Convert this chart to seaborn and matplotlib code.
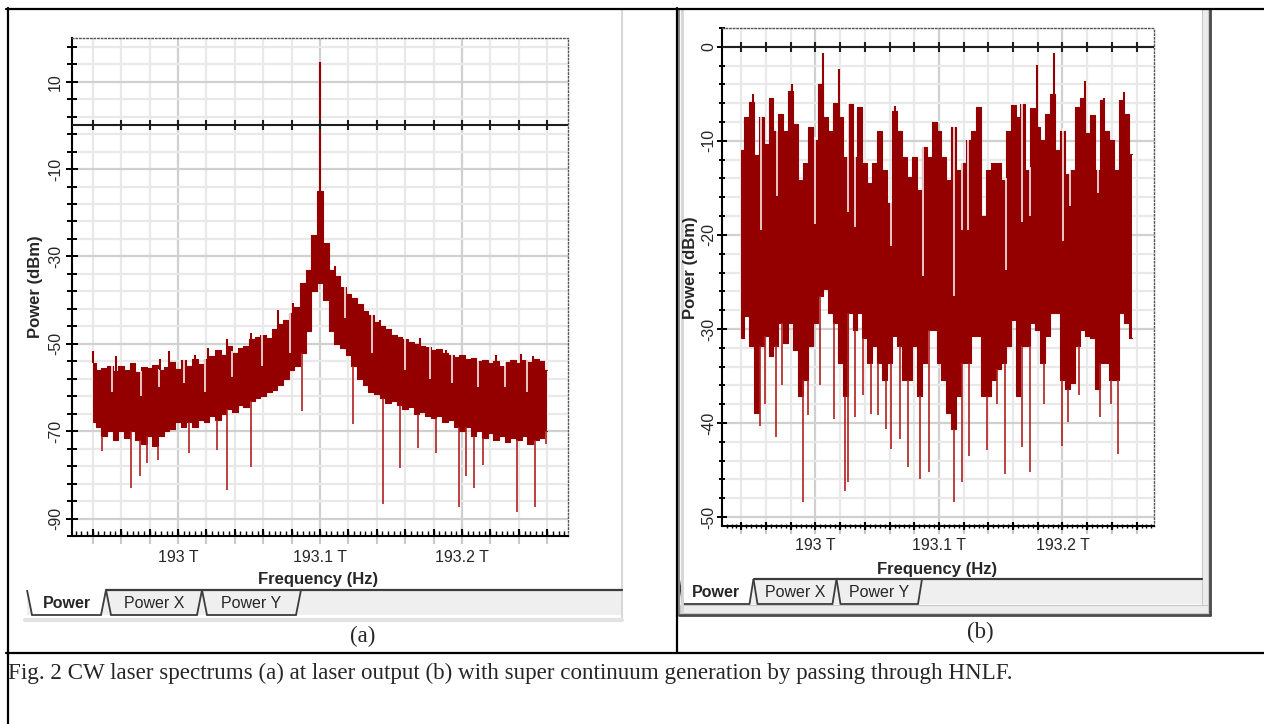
import matplotlib
matplotlib.use("Agg")
import matplotlib.pyplot as plt
from matplotlib.patches import Polygon, Rectangle
import numpy as np
import seaborn as sns

W, H = 1264, 724

# 4 GHz sampling bins of both spectra (THz)
freq = np.round(192.94 + 0.004 * np.arange(81), 4)

# (a) laser output: top / bottom of the noise band, dBm
a_upper = [-54.5, -56, -55.5, -55, -56.2, -55, -56, -54.5, -56.5, -55.2,
           -55.6, -54.8, -56, -55.2, -54.2, -55.8, -53.8, -55, -53.5, -54.6,
           -53.5, -52.8, -51.5, -52.5, -50.5, -52, -51, -50.5, -49, -48.5,
           -48, -48.6, -46.5, -45.5, -44.5, -43, -41.5, -36, -33, -25,
           -15, -27, -33, -34.5, -37, -38.5, -39.5, -41, -42.5, -43.5,
           -45, -46, -46.5, -48, -48.5, -49, -49.5, -50, -50.5, -50.8,
           -51.5, -51.2, -52, -52.5, -53, -52.6, -53.5, -53.2, -54, -53.6,
           -54.5, -54, -55, -54.2, -53.6, -54.5, -53.8, -54.2, -53.5, -54, -56]
a_lower = [-68, -69, -71, -70, -72, -70, -71.5, -70, -72, -73,
           -71, -73.5, -71, -70, -69.5, -68, -69, -68, -69, -67.5,
           -68, -66.5, -67.5, -66, -65, -65.5, -64, -64.5, -63, -62.5,
           -62, -61, -60.5, -59.5, -58, -56, -55, -52, -47, -38,
           -36, -40, -47, -50, -51, -52.5, -55, -58, -59.5, -61,
           -61.5, -62.5, -63.5, -63, -64, -65, -64.5, -66, -65.5, -66.5,
           -67, -66.5, -68, -67.5, -69, -70, -69, -71, -70, -71.5,
           -70.5, -72, -71, -72.5, -71.5, -72, -71, -73, -72, -71.5, -70]
a_peaks = [(193.1, 14.5), (192.9405, -51.6), (192.9937, -51.7), (193.012, -52.5),
           (193.0345, -48.9), (193.0704, -42.3), (193.1106, -32.1), (193.1294, -41),
           (193.1704, -48.6), (193.25, -52.7), (192.9566, -52.7), (192.9875, -53.4),
           (193.0210, -51), (193.0515, -47.5), (193.0810, -40.6), (193.1420, -44.5),
           (193.1885, -51.5), (193.2240, -52.5), (193.2415, -52.4)]
a_dips = [(192.9463, -74.5), (192.9667, -83), (192.9732, -80.3), (192.9782, -77.4),
          (192.9859, -76.5), (193.0077, -75), (193.0273, -74.4), (193.0347, -83.4),
          (193.0514, -78.2), (193.0873, -65.3), (193.1232, -68.4), (193.1442, -86.7),
          (193.1563, -78.5), (193.1688, -73.8), (193.1817, -75), (193.1979, -87.3),
          (193.2026, -80.2), (193.2085, -83), (193.2148, -77.8), (193.2387, -88.4),
          (193.2514, -87.3), (193.2592, -73)]
a_notches = [(192.9533, -61), (192.9739, -62), (192.9866, -60), (193.0042, -59),
             (193.0190, -61), (193.0380, -57.5), (193.0592, -55), (193.0789, -52),
             (193.1176, -44), (193.1366, -52), (193.1599, -56), (193.1775, -58),
             (193.1930, -59), (193.2113, -60), (193.2303, -60), (193.2458, -61)]

# (b) after the HNLF (super continuum)
b_upper = [-11, -7.5, -5.9, -11.5, -7.5, -10.3, -5.4, -8.9, -7.1, -8.9,
           -4.7, -8.2, -14.2, -12.4, -8.5, -9.9, -4, -7.5, -8.9, -6,
           -7.5, -11.7, -6.1, -11.7, -6.4, -12.4, -14.5, -12.4, -8.9, -13.1,
           -16.6, -6.8, -8.9, -11.7, -13.8, -11.7, -15.2, -10.7, -11.7, -8,
           -8.9, -11.7, -14.2, -8.5, -13.1, -12.4, -9.9, -8.9, -6.4, -18,
           -13.1, -12.4, -12.4, -14.2, -8.9, -6.2, -7.5, -6.1, -13.1, -6.5,
           -8.5, -9.9, -7.1, -5, -11, -8.9, -13.5, -13.1, -6.4, -5.4,
           -9.2, -7.3, -13.1, -5.7, -8.9, -9.9, -13.1, -5.7, -7.1, -11.4]
b_lower = [-31, -28.6, -31.8, -38.9, -31.8, -30.8, -32.9, -31.8, -29.4, -31.5,
           -29.4, -32.2, -37.1, -35.4, -31.8, -29.4, -26.5, -25.8, -28.3, -29.4,
           -33.6, -37.1, -28.3, -30.1, -28.3, -31, -33.6, -31.8, -33.6, -35.4,
           -33.6, -30.8, -31.8, -35.4, -35.4, -31.8, -37.1, -33.6, -30.1, -30.1,
           -33.6, -35.4, -38.9, -40.6, -37.1, -33.6, -33.6, -30.8, -30.8, -37.1,
           -37.1, -35.4, -34.3, -33.6, -31.8, -29, -37.1, -31.8, -31.8, -29.4,
           -30.1, -33.6, -30.8, -28.3, -28.3, -35.4, -36.4, -35.7, -31.8, -30.1,
           -30.8, -31, -36.4, -33.6, -33.6, -35.4, -35.4, -28.3, -29.4, -31]
b_peaks = [(193.0061, -0.7), (193.0193, -2.4), (193.1796, -1.9), (193.1931, -0.7),
           (193.2182, -3.6), (193.2498, -4.8), (193.2336, -5.4), (192.9807, -4),
           (192.9496, -5), (193.0644, -6.3)]
b_dips = [(192.9551, -40.3), (192.9678, -41.5), (192.9901, -48.4), (192.9937, -39.2),
          (193.0152, -39.6), (193.0241, -47.2), (193.0266, -46.3), (193.0320, -39.4),
          (193.0447, -39), (193.0509, -39.2), (193.0568, -40.6), (193.0614, -42.8),
          (193.0684, -41.7), (193.0747, -44.7), (193.0846, -45.9), (193.0919, -45.2),
          (193.1121, -48.4), (193.1189, -46.3), (193.1245, -43.5), (193.1391, -42.9),
          (193.1537, -45.4), (193.1674, -42.6), (193.1737, -45.2), (193.1998, -42.4),
          (193.2042, -39.9), (193.2304, -39.4), (193.2447, -43.3), (192.9590, -38),
          (192.9725, -36), (193.0035, -36), (193.0385, -37), (193.1470, -38),
          (193.1850, -38), (193.2130, -37), (193.2390, -38)]
b_notches = [(192.9556, -19.5), (192.9688, -15.9), (192.9996, -18.8), (193.0263, -17.6),
             (193.0320, -19.2), (193.0609, -21.2), (193.0870, -24.4), (193.1121, -26.5),
             (193.1189, -19.5), (193.1237, -19.5), (193.1540, -23.7), (193.1670, -18.6),
             (193.1737, -18), (193.2002, -20.7), (193.2061, -16.9), (193.2290, -15.5)]

xtick_vals = [193.0, 193.1, 193.2]
xtick_labels = ["193 T", "193.1 T", "193.2 T"]
a_yticks = [10, -10, -30, -50, -70, -90]
b_yticks = [0, -10, -20, -30, -40, -50]
tab_names = ["Power", "Power X", "Power Y"]
caption = ("Fig. 2 CW laser spectrums (a) at laser output (b) with super continuum "
           "generation by passing through HNLF.")

RED = "#940000"
SPIKE = "#b31f1f"

sns.set_style("white")
plt.rcParams["font.family"] = ["Liberation Sans", "DejaVu Sans"]

fig = plt.figure(figsize=(W / 100, H / 100), dpi=100, facecolor="white")
bg = fig.add_axes([0, 0, 1, 1])
bg.set_xlim(0, W)
bg.set_ylim(H, 0)
bg.axis("off")


def box(l, t, r, b):
    return [l / W, 1 - b / H, (r - l) / W, (b - t) / H]


def nearest(f, grid, vals):
    return vals[int(np.abs(grid - f).argmin())]


def draw_trace(ax, f, upper, lower, peaks, dips, notches=()):
    ax.fill_between(f, lower, upper, step="mid", color=RED, lw=0, zorder=3)
    for edge in (upper, lower):
        sns.lineplot(x=f, y=edge, ax=ax, color=RED, lw=0.8, drawstyle="steps-mid", zorder=3)
    if notches:
        ax.vlines([n[0] for n in notches], [nearest(n[0], f, upper) + 0.3 for n in notches],
                  [n[1] for n in notches], color="white", lw=1.1, zorder=3.2)
    ax.vlines([p[0] for p in peaks], [nearest(p[0], f, upper) for p in peaks],
              [p[1] for p in peaks], color=RED, lw=1.5, zorder=3.3)
    ax.vlines([d[0] for d in dips], [nearest(d[0], f, lower) for d in dips],
              [d[1] for d in dips], color=SPIKE, lw=1.2, zorder=3.3)


def style_axes(ax, xlim, ylim, yticks, yminor, tick_len, xpad, ypad, ylab_pos, xlab_y):
    ax.set_xlim(*xlim)
    ax.set_ylim(*ylim)
    minor_x = np.round(np.arange(192.94, 193.27, 0.02), 2)
    ax.set_xticks(xtick_vals, xtick_labels)
    ax.set_xticks(minor_x, minor=True)
    ax.set_yticks(yticks, [str(v) for v in yticks])
    ax.set_yticks(yminor, minor=True)
    ax.set_axisbelow(True)
    ax.grid(which="minor", color="#e9e9e9", lw=1.6)
    ax.grid(which="major", color="#d0d0d0", lw=1.6)
    ax.tick_params(axis="x", which="both", direction="out", color="#c8c8c8", width=1.5,
                   length=6, labelsize=11.5, pad=xpad, bottom=True)
    ax.tick_params(axis="y", which="major", direction="inout", color="k", width=1.4,
                   length=tick_len[0], labelsize=11.5, pad=ypad, labelrotation=90, left=True)
    ax.tick_params(axis="y", which="minor", direction="inout", color="k", width=1.4,
                   length=tick_len[1], left=True)
    for t in ax.get_yticklabels():
        t.set_va("center")
    # zero line with its own ticks
    ax.axhline(0, color="#1e1e1e", lw=1.5, zorder=4)
    ax.plot(minor_x, np.zeros(len(minor_x)), ls="none", marker="|", ms=7, mew=1.5,
            color="#1e1e1e", zorder=4)
    # dense ticks on the frequency axis
    fine = np.arange(192.928, 193.274, 0.004)
    ax.plot(fine, np.full(len(fine), ylim[0]), ls="none", marker="|", ms=3, mew=1,
            color="k", clip_on=False, zorder=5)
    ax.plot(minor_x, np.full(len(minor_x), ylim[0]), ls="none", marker="|", ms=6, mew=1.5,
            color="k", clip_on=False, zorder=5)
    for s in ("left", "bottom"):
        ax.spines[s].set(color="k", lw=1.5, visible=True)
    for s in ("top", "right"):
        ax.spines[s].set(color="#555555", lw=1.0, ls=(0, (1, 1.6)), visible=True)
    ax.set_xlabel("Frequency (Hz)", fontweight="bold", fontsize=12)
    ax.set_ylabel("Power (dBm)", fontweight="bold", fontsize=12)
    ax.yaxis.set_label_coords(*ylab_pos)
    ax.xaxis.set_label_coords(0.497, xlab_y)


def draw_tabs(x0, widths, top, bottom, right, slant):
    bg.add_patch(Rectangle((x0, top), right - x0, bottom - top, facecolor="#efefef",
                           edgecolor="none"))
    edges = np.cumsum([x0] + widths)
    bg.plot([edges[1], right], [top, top], color="#3c3c3c", lw=1.6)
    for k, name in enumerate(tab_names):
        l, r = edges[k], edges[k + 1]
        poly = [(l, top), (l + slant, bottom), (r - slant, bottom), (r, top)]
        bg.add_patch(Polygon(poly, closed=False, facecolor="white" if k == 0 else "#efefef",
                             edgecolor="#3c3c3c", lw=1.3))
        bg.text((l + r) / 2, (top + bottom) / 2 + 1, name, ha="center", va="center",
                fontsize=11.5, fontweight="bold" if k == 0 else "normal")


# ---- panel (a)
ax_a = fig.add_axes(box(72, 38, 568, 536))
draw_trace(ax_a, freq, a_upper, a_lower, a_peaks, a_dips, a_notches)
style_axes(ax_a, (192.9254, 193.2746), (-93.2, 20), a_yticks, np.arange(18, -95, -4),
           (8.6, 6.5), 4.2, 2.2, (-0.0585, 0.5), -0.0723)

# ---- panel (b)
ax_b = fig.add_axes(box(722, 28, 1154, 526))
draw_trace(ax_b, freq[:80], b_upper, b_lower, b_peaks, b_dips, b_notches)
style_axes(ax_b, (192.9243, 193.2741), (-50.95, 1.91), b_yticks, np.arange(2, -51, -2),
           (7.2, 5), 2.8, 0.7, (-0.0556, 0.518), -0.0723)

# ---- simulator windows around the plots
bg.plot([622, 622], [10, 620], color="#d8d8d8", lw=1.5)
bg.plot([25, 622], [620, 620], color="#e2e2e2", lw=3)
draw_tabs(27, [79, 96, 99], 590, 615, 622, 5)

bg.plot([679, 679], [9, 614], color="#8a8a8a", lw=1.5)
bg.plot([681.5, 681.5], [9, 612], color="#d5d5d5", lw=2)
bg.add_patch(Rectangle((1202, 9), 6, 604, facecolor="#ececec", edgecolor="#c8c8c8", lw=0.8))
bg.add_patch(Rectangle((680, 605), 528, 8, facecolor="#ececec", edgecolor="#c8c8c8", lw=0.8))
bg.plot([1209.5, 1209.5], [9, 615], color="#4a4a4a", lw=2)
bg.plot([679, 1210], [614.5, 614.5], color="#4a4a4a", lw=2)
draw_tabs(679, [74.5, 83, 85.5], 579, 604, 1202, 4)

# ---- table lines and captions
for xs, ys in [([6, W], [8.5, 8.5]), ([7.5, 7.5], [8, H]), ([677, 677], [8, 652]),
               ([6, W], [652.5, 652.5])]:
    bg.plot(xs, ys, color="black", lw=1.6)

serif = ["Liberation Serif", "DejaVu Serif"]
bg.text(363, 636, "(a)", family=serif, fontsize=16.5, ha="center", va="center")
bg.text(980, 632, "(b)", family=serif, fontsize=16.5, ha="center", va="center")
bg.text(8, 673, caption, family=serif, fontsize=16.6, ha="left", va="center")

fig.savefig("out.png", dpi=100, facecolor="white")
